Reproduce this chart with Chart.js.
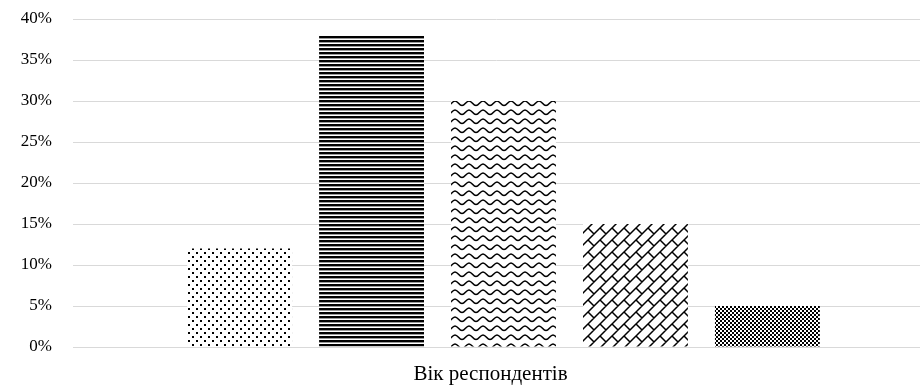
<!DOCTYPE html>
<html>
<head>
<meta charset="utf-8">
<script src="https://cdn.jsdelivr.net/npm/chart.js@4"></script>
<style>
  html, body { margin: 0; padding: 0; background: #fff; }
  #wrap { width: 920px; height: 388px; }
</style>
</head>
<body>
<div id="wrap"><canvas id="chart" width="920" height="388"></canvas></div>
<script>
// data
const categories = ['Вік респондентів'];
const seriesNames = ['Група 1', 'Група 2', 'Група 3', 'Група 4', 'Група 5'];
const seriesValues = [12, 38, 30, 15, 5];
const yMax = 40;
const yStep = 5;

// small tiles for the fills
function makeTile(w, h, draw) {
    const c = document.createElement('canvas');
    c.width = w;
    c.height = h;
    const g = c.getContext('2d');
    g.fillStyle = '#fff';
    g.fillRect(0, 0, w, h);
    draw(g);
    return g.createPattern(c, 'repeat');
}

const dots = makeTile(8, 8, g => {
    g.fillStyle = '#000';
    g.fillRect(0, 0, 2, 2);
    g.fillRect(4, 4, 2, 2);
});

const stripes = makeTile(4, 4, g => {
    g.fillStyle = '#000';
    g.fillRect(0, 0, 4, 2);
    g.fillStyle = '#999';
    g.fillRect(0, 2, 4, 1);
});

const waves = makeTile(14, 9, g => {
    g.strokeStyle = '#000';
    g.lineWidth = 1.5;
    g.beginPath();
    g.moveTo(0, 6.5);
    g.bezierCurveTo(3, 6.5, 4, 2, 7, 2);
    g.bezierCurveTo(10, 2, 11, 6.5, 14, 6.5);
    g.stroke();
});

const bricks = makeTile(12, 12, g => {
    g.strokeStyle = '#000';
    g.lineWidth = 1.5;
    g.beginPath();
    g.moveTo(-1, 13); g.lineTo(13, -1);
    g.moveTo(-1, 1); g.lineTo(1, -1);
    g.moveTo(11, 13); g.lineTo(13, 11);
    g.moveTo(0, 0); g.lineTo(6, 6);
    g.moveTo(12, 0); g.lineTo(13, 1);
    g.moveTo(0, 12); g.lineTo(-1, 11);
    g.stroke();
});

const checks = makeTile(4, 4, g => {
    g.fillStyle = '#000';
    g.fillRect(0, 0, 2, 2);
    g.fillRect(2, 2, 2, 2);
});

const fills = [dots, stripes, waves, bricks, checks];

const datasets = seriesValues.map((v, i) => ({
    label: seriesNames[i],
    data: [v],
    backgroundColor: fills[i],
    borderWidth: 0,
    categoryPercentage: 0.792,
    barPercentage: 0.795
}));

const fontFamily = '"Liberation Serif", "Times New Roman", serif';

// the gridlines start a bit left of where the bar group is centred
const widenGrid = {
    id: 'widenGrid',
    afterLayout(chart) {
        chart.chartArea.left = 73;
    }
};

new Chart(document.getElementById('chart'), {
    type: 'bar',
    data: {
        labels: categories,
        datasets: datasets
    },
    plugins: [widenGrid],
    options: {
        responsive: false,
        animation: false,
        layout: { padding: { top: 19, right: 0, bottom: 0, left: 0 } },
        plugins: {
            legend: { display: false },
            tooltip: { enabled: false }
        },
        scales: {
            x: {
                afterFit: scale => { scale.height = 41; },
                grid: { display: false, drawTicks: false },
                border: { display: false },
                ticks: {
                    color: '#000',
                    padding: 15,
                    labelOffset: -13,
                    font: { family: fontFamily, size: 21 }
                }
            },
            y: {
                min: 0,
                max: yMax,
                afterFit: scale => {
                    scale.width = 87;
                    scale.paddingTop = 10;
                    scale.paddingBottom = 10;
                },
                grid: { color: '#d9d9d9', lineWidth: 1, drawTicks: false },
                border: { display: false },
                ticks: {
                    stepSize: yStep,
                    color: '#000',
                    padding: 35,
                    font: { family: fontFamily, size: 17 },
                    callback: v => v + '%'
                }
            }
        }
    }
});
</script>
</body>
</html>
